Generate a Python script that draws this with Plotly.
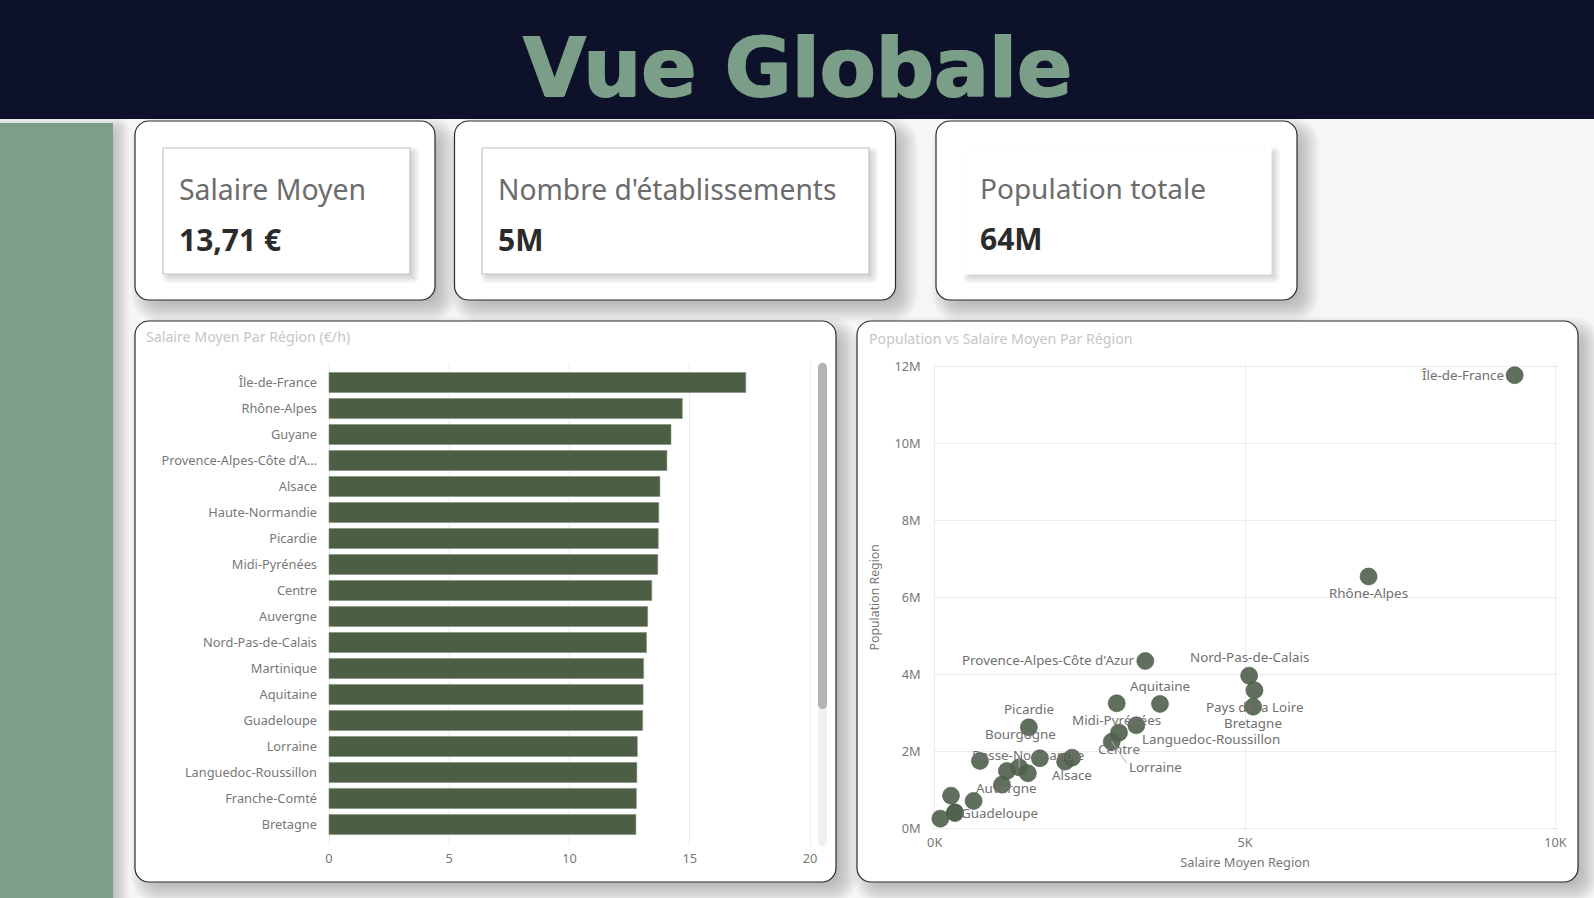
import plotly.graph_objects as go
from plotly.subplots import make_subplots

W, H = 1594, 898

# data
bar_regions = ["Île-de-France", "Rhône-Alpes", "Guyane", "Provence-Alpes-Côte d'A...", "Alsace",
               "Haute-Normandie", "Picardie", "Midi-Pyrénées", "Centre", "Auvergne",
               "Nord-Pas-de-Calais", "Martinique", "Aquitaine", "Guadeloupe", "Lorraine",
               "Languedoc-Roussillon", "Franche-Comté", "Bretagne"]
bar_salaire = [17.33, 14.69, 14.22, 14.05, 13.76, 13.71, 13.69, 13.67, 13.42, 13.25,
               13.2, 13.08, 13.06, 13.04, 12.82, 12.8, 12.78, 12.76]
bar_ticks = [0, 5, 10, 15, 20]

scatter_regions = ["Guyane", "Réunion", "Martinique", "Guadeloupe", "Limousin", "Poitou-Charentes",
                   "Franche-Comté", "Auvergne", "Bourgogne", "Basse-Normandie", "Picardie",
                   "Haute-Normandie", "Champagne-Ardenne", "Alsace", "Lorraine", "Centre",
                   "Midi-Pyrénées", "Languedoc-Roussillon", "Aquitaine",
                   "Provence-Alpes-Côte d'Azur", "Nord-Pas-de-Calais", "Pays de la Loire",
                   "Bretagne", "Rhône-Alpes", "Île-de-France"]
scatter_salaire = [91, 263, 327, 327, 627, 729, 1083, 1163, 1361, 1501, 1517, 1694, 2101, 2214,
                   2852, 2969, 2932, 3248, 3629, 3393, 5065, 5151, 5130, 6989, 9342]
scatter_pop = [251000, 848000, 415000, 395000, 710000, 1749000, 1134000, 1489000, 1584000,
               1429000, 2623000, 1818000, 1732000, 1835000, 2251000, 2485000, 3247000, 2675000,
               3230000, 4346000, 3965000, 3584000, 3160000, 6540000, 11770000]
x_tickvals = [0, 5000, 10000]
x_ticktext = ["0K", "5K", "10K"]
y_tickvals = [0, 2000000, 4000000, 6000000, 8000000, 10000000, 12000000]
y_ticktext = ["0M", "2M", "4M", "6M", "8M", "10M", "12M"]

# label offsets from the dot, in pixels (dx, dy)
label_offsets = {
    "Provence-Alpes-Côte d'Azur": (-97, -0.5),
    "Nord-Pas-de-Calais": (0, -18.5),
    "Aquitaine": (0, -17.5),
    "Picardie": (0, -18),
    "Pays de la Loire": (0, 17),
    "Bretagne": (0, 16.5),
    "Midi-Pyrénées": (0, 17),
    "Languedoc-Roussillon": (75, 14),
    "Centre": (0, 16.5),
    "Basse-Normandie": (0, -18),
    "Alsace": (0, 17.5),
    "Auvergne": (0, 17),
    "Guadeloupe": (45, 0),
    "Rhône-Alpes": (0, 16.5),
    "Île-de-France": (-52, 0),
    "Bourgogne": (1, -33),
    "Lorraine": (44, 25),
}
# pale leader lines, from the dot out to this point
leader_ends = {"Bourgogne": (0, -22), "Lorraine": (18, 26)}

NAVY = "#0d1129"
SAGE = "#7d9f89"
BAR = "#4c5e44"
DOT = "rgba(80,97,76,0.9)"
GRID = "#ececec"
TICK = "#777777"
FONT = "Noto Sans"


def px(x):
    return x / W


def py(y):
    return 1 - y / H


def rrect(x0, y0, x1, y1, r):
    k = r * 0.45
    pts = [
        f"M {px(x0 + r)} {py(y0)}", f"L {px(x1 - r)} {py(y0)}",
        f"C {px(x1 - k)} {py(y0)} {px(x1)} {py(y0 + k)} {px(x1)} {py(y0 + r)}",
        f"L {px(x1)} {py(y1 - r)}",
        f"C {px(x1)} {py(y1 - k)} {px(x1 - k)} {py(y1)} {px(x1 - r)} {py(y1)}",
        f"L {px(x0 + r)} {py(y1)}",
        f"C {px(x0 + k)} {py(y1)} {px(x0)} {py(y1 - k)} {px(x0)} {py(y1 - r)}",
        f"L {px(x0)} {py(y0 + r)}",
        f"C {px(x0)} {py(y0 + k)} {px(x0 + k)} {py(y0)} {px(x0 + r)} {py(y0)} Z",
    ]
    return " ".join(pts)


shapes = []


def add_path(path, fill, line=None, width=1):
    shapes.append(dict(type="path", path=path, xref="paper", yref="paper", layer="below",
                       fillcolor=fill, line=dict(color=line or "rgba(0,0,0,0)", width=width)))


def add_shadow(x0, y0, x1, y1, r, off=9, spread=13, alpha=0.022):
    # stacked translucent rounded boxes stand in for a blurred shadow
    for i in range(spread, -spread, -2):
        add_path(rrect(x0 + off - i, y0 + off - i, x1 + off + i, y1 + off + i, r + max(i, 0)),
                 f"rgba(0,0,0,{alpha})")


def add_card(x0, y0, x1, y1, r=14):
    add_shadow(x0, y0, x1, y1, r)
    add_path(rrect(x0, y0, x1, y1, r), "white", "#2b2b2b", 1.2)


def add_tile(x0, y0, x1, y1, border="#c4c4c4"):
    add_shadow(x0, y0, x1, y1, 1, off=4, spread=5, alpha=0.04)
    add_path(rrect(x0, y0, x1, y1, 0.5), "white", border, 1.2)


# page furniture
add_shadow(-20, 123, 113, 930, 1, off=5, spread=11, alpha=0.028)
add_path(rrect(-5, 123, 113, 905, 0.5), SAGE)
add_path(rrect(-5, -5, W + 5, 119, 0.5), NAVY)

add_card(135, 121, 435, 300)
add_card(454.5, 121, 895.5, 300)
add_card(936, 121, 1297, 300)
add_tile(163, 148, 410, 274)
add_tile(482, 148, 869, 274)
add_tile(964, 148, 1271, 274, border="white")
add_card(135, 321, 836, 882)
add_card(857, 321, 1578, 882)

# scrollbar of the bar list
add_path(rrect(818, 362, 827, 846, 4.5), "#f0f0f0")
add_path(rrect(818, 363, 827, 709, 4.5), "#b3b3b3")


def text(x, y, s, size, color, weight=400, anchor="left", family=FONT, **kw):
    return dict(xref="paper", yref="paper", x=px(x), y=py(y), text=s, showarrow=False,
                xanchor=anchor, yanchor="middle",
                font=dict(size=size, color=color, family=family, weight=weight, **kw))


annotations = [
    text(797, 67, "Vue Globale", 81.5, "#7a9e87", 700, "center", "DejaVu Sans",
         shadow="1px 0 #7a9e87, -1px 0 #7a9e87, 0 1px #7a9e87"),
    text(177, 189, "Salaire Moyen", 28.4, "#6c6c6c"),
    text(177, 239.5, "13,71 €", 30, "#2b2b2b", 700),
    text(496, 189, "Nombre d'établissements", 28.2, "#6c6c6c"),
    text(496, 239.5, "5M", 30, "#2b2b2b", 700),
    text(978, 188, "Population totale", 28, "#6c6c6c"),
    text(978, 238.5, "64M", 30, "#2b2b2b", 700),
    text(143.5, 336, "Salaire Moyen Par Région (€/h)", 14.2, "#c6c6c6"),
    text(867, 338.5, "Population vs Salaire Moyen Par Région", 14.2, "#c6c6c6"),
]

label_font = dict(size=13.4, color="#707070", family=FONT)

for name, sal, pop in zip(scatter_regions, scatter_salaire, scatter_pop):
    if name in leader_ends:
        dx, dy = leader_ends[name]
        annotations.append(dict(xref="x2", yref="y2", x=sal, y=pop, text=" ", showarrow=True,
                                arrowhead=0, arrowwidth=1, arrowcolor="#b0b0b0", ax=dx, ay=dy))
    if name in label_offsets:
        dx, dy = label_offsets[name]
        annotations.append(dict(xref="x2", yref="y2", x=sal, y=pop, text=name, showarrow=False,
                                xshift=dx, yshift=-dy, font=label_font))

fig = make_subplots(rows=1, cols=2)

fig.add_trace(go.Bar(x=bar_salaire, y=bar_regions, orientation="h", marker_color=BAR,
                     marker_line=dict(color="#7f8d78", width=0.6), width=0.77), row=1, col=1)
fig.add_trace(go.Scatter(x=scatter_salaire, y=scatter_pop, mode="markers", text=scatter_regions,
                         cliponaxis=False,
                         marker=dict(size=17, color=DOT, line=dict(color="rgba(70,85,65,0.6)", width=1))),
              row=1, col=2)

axis_font = dict(size=12.8, color=TICK, family=FONT)

# plotly drops grid lines within 1px of the range ends, so every range runs 2px further
fig.update_xaxes(row=1, col=1, domain=[px(327), px(812)], range=[-0.083, 20.083], tickvals=bar_ticks,
                 gridcolor=GRID, gridwidth=1, zeroline=False, showline=False, tickfont=axis_font,
                 ticks="", ticklabelstandoff=3, automargin=False)
fig.update_yaxes(row=1, col=1, domain=[py(846), py(362)], range=[17.83, -0.79], showgrid=False,
                 type="category", tickfont=axis_font, ticks="", ticklabelstandoff=9,
                 zeroline=False, showline=False, automargin=False)
fig.update_xaxes(row=1, col=2, domain=[px(932.7), px(1557.5)], range=[-32, 10032], tickvals=x_tickvals,
                 ticktext=x_ticktext, gridcolor=GRID, gridwidth=1, zeroline=False, showline=False,
                 tickfont=axis_font, ticks="", ticklabelstandoff=3, automargin=False,
                 title=dict(text="Salaire Moyen Region", font=axis_font, standoff=7))
fig.update_yaxes(row=1, col=2, domain=[py(830.3), py(364.3)], range=[-52000, 12052000], tickvals=y_tickvals,
                 ticktext=y_ticktext, gridcolor=GRID, gridwidth=1, zeroline=False, showline=False,
                 tickfont=axis_font, ticks="", ticklabelstandoff=11, automargin=False,
                 title=dict(text="Population Region", font=dict(size=12.3, color=TICK, family=FONT), standoff=12))

fig.update_layout(
    width=W, height=H, margin=dict(l=0, r=0, t=0, b=0, autoexpand=False), showlegend=False,
    paper_bgcolor="#f6f6f6", plot_bgcolor="rgba(0,0,0,0)",
    shapes=shapes, annotations=annotations, font=dict(family=FONT),
)

fig.write_html("out.html", config=dict(displayModeBar=False),
               post_script="document.body.style.margin='0';document.body.style.overflow='hidden';")
